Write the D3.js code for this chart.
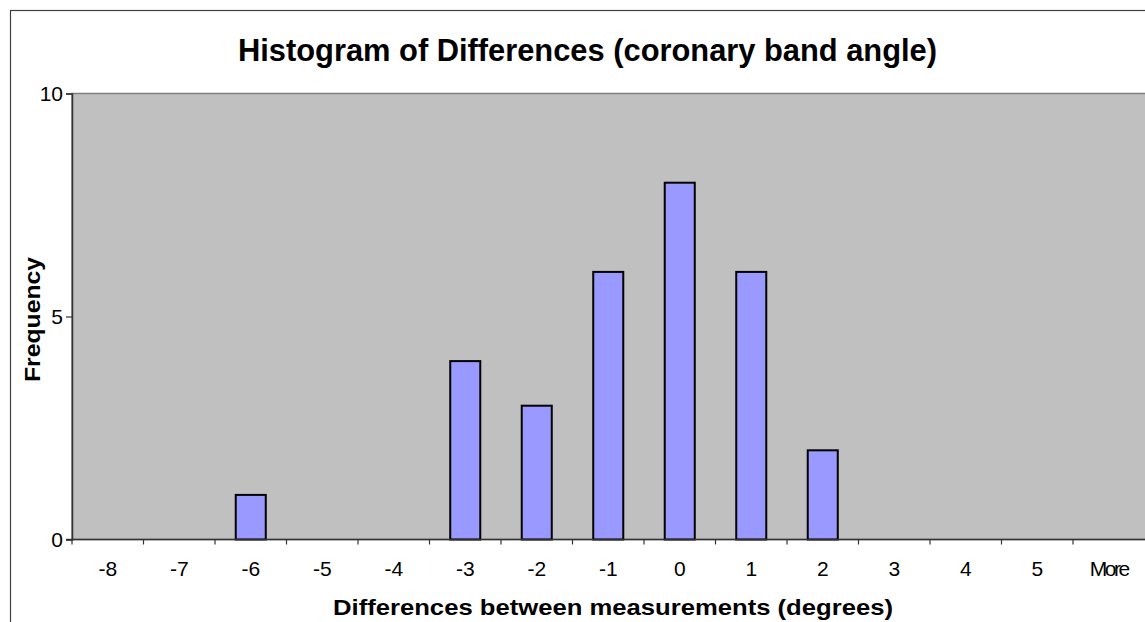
<!DOCTYPE html>
<html>
<head>
  <meta charset="utf-8">
  <script src="https://cdn.jsdelivr.net/npm/d3@7"></script>
  <style>
    body { margin: 0; background: #fff; }
    svg { display: block; font-family: "Liberation Sans", Arial, sans-serif; }
  </style>
</head>
<body>
<script>
  "use strict";

  // histogram bins and their counts
  var bins = ["-8", "-7", "-6", "-5", "-4", "-3", "-2", "-1", "0", "1", "2", "3", "4", "5", "More"];
  var counts = [0, 0, 1, 0, 0, 4, 3, 6, 8, 6, 2, 0, 0, 0, 0];
  var yTicks = [0, 5, 10];

  var W = 1145, H = 622;
  var plot = { left: 72, top: 93.5, right: 1144.5, bottom: 539.5 };

  var svg = d3.select("body").append("svg")
      .attr("width", W)
      .attr("height", H);

  // chart area border
  svg.append("rect")
      .attr("x", 10.5).attr("y", 10.5)
      .attr("width", W + 20).attr("height", H + 20)
      .attr("fill", "#fff")
      .attr("stroke", "#404040")
      .attr("stroke-width", 1.2);

  var x = d3.scaleBand()
      .domain(bins)
      .range([plot.left, plot.right])
      .paddingInner(0.58)
      .paddingOuter(0.29);

  var y = d3.scaleLinear()
      .domain([0, 10])
      .range([plot.bottom, plot.top]);

  // plot area
  svg.append("rect")
      .attr("x", plot.left).attr("y", plot.top)
      .attr("width", W + 10 - plot.left).attr("height", plot.bottom - plot.top)
      .attr("fill", "#c0c0c0")
      .attr("stroke", "#808080")
      .attr("stroke-width", 1.5);

  // bars
  svg.selectAll("rect.bar")
      .data(counts)
      .enter().append("rect")
      .attr("class", "bar")
      .attr("x", function(d, i) { return x(bins[i]); })
      .attr("width", x.bandwidth())
      .attr("y", function(d) { return y(d); })
      .attr("height", function(d) { return y(0) - y(d); })
      .attr("fill", "#9999ff")
      .attr("stroke", "#000")
      .attr("stroke-width", 2)
      .style("display", function(d) { return d > 0 ? null : "none"; });

  // y axis
  var yAxis = svg.append("g")
      .attr("transform", "translate(" + plot.left + ",0)")
      .call(d3.axisLeft(y).tickValues(yTicks).tickSize(6).tickPadding(3));
  yAxis.select(".domain").attr("stroke", "#333").attr("stroke-width", 1.5);
  yAxis.selectAll(".tick line").attr("stroke", "#333").attr("stroke-width", 1.2);
  yAxis.selectAll(".tick text")
      .style("font-size", "21px")
      .style("font-family", "Liberation Sans, Arial, sans-serif")
      .attr("fill", "#000");

  // x axis: labels centred in bins, tick marks at bin boundaries
  var xAxis = svg.append("g")
      .attr("transform", "translate(0," + plot.bottom + ")")
      .call(d3.axisBottom(x).tickSize(0).tickPadding(22));
  xAxis.select(".domain").remove();
  xAxis.selectAll(".tick text")
      .style("font-size", "21px")
      .style("font-family", "Liberation Sans, Arial, sans-serif")
      .attr("fill", "#000")
      .attr("letter-spacing", function(d) { return d === "More" ? -2.5 : 0; });

  svg.append("line")
      .attr("x1", plot.left - 6).attr("x2", W + 10)
      .attr("y1", plot.bottom).attr("y2", plot.bottom)
      .attr("stroke", "#333").attr("stroke-width", 1.5);

  var bounds = bins.map(function(b) { return x(b) - x.step() * x.paddingOuter(); });
  svg.selectAll("line.xtick")
      .data(bounds)
      .enter().append("line")
      .attr("class", "xtick")
      .attr("x1", function(d) { return d; }).attr("x2", function(d) { return d; })
      .attr("y1", plot.bottom).attr("y2", plot.bottom + 5)
      .attr("stroke", "#333").attr("stroke-width", 1.2);

  // titles
  svg.append("text")
      .attr("x", 238).attr("y", 61)
      .attr("font-size", 32)
      .attr("font-weight", "bold")
      .attr("textLength", 699)
      .attr("lengthAdjust", "spacingAndGlyphs")
      .text("Histogram of Differences (coronary band angle)");

  svg.append("text")
      .attr("x", 333).attr("y", 615)
      .attr("font-size", 22)
      .attr("font-weight", "bold")
      .attr("textLength", 560)
      .attr("lengthAdjust", "spacingAndGlyphs")
      .text("Differences between measurements (degrees)");

  svg.append("text")
      .attr("transform", "translate(40,382) rotate(-90)")
      .attr("font-size", 22)
      .attr("font-weight", "bold")
      .attr("textLength", 125)
      .attr("lengthAdjust", "spacingAndGlyphs")
      .text("Frequency");
</script>
</body>
</html>
